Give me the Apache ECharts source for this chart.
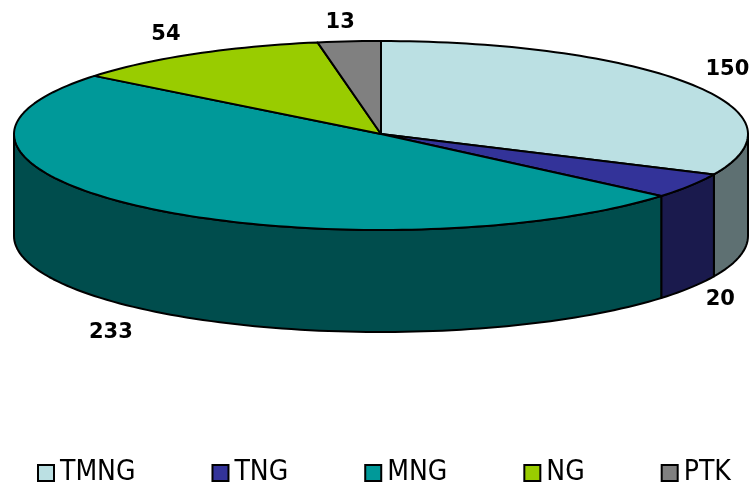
<!DOCTYPE html>
<html>
<head>
<meta charset="utf-8">
<style>html,body{margin:0;padding:0;background:#fff}#chart{width:752px;height:487px}</style>
<script src="https://cdn.jsdelivr.net/npm/echarts@6/dist/echarts.min.js"></script>
</head>
<body>
<div id="chart"></div>
<script>
// Category shares drawn as a tilted disc, clockwise from twelve o'clock.
const categories = ['TMNG', 'TNG', 'MNG', 'NG', 'PTK'];
const values = [150, 20, 233, 54, 13];
const topColors = ['#BBE0E3', '#333399', '#009999', '#99CC00', '#808080'];
const wallColors = ['#5E7072', '#1A1A4D', '#004D4D', '#4D6600', '#404040'];
// Label placement relative to each slice's mid-angle rim point.
const labelNudge = [[37, -14], [30, 12], [-37, 22], [-28, -19], [-9, -19]];

// The near half of the disc is drawn slightly deeper than the far half.
const disc = { cx: 381, cy: 134, rx: 367, ryFar: 93, ryNear: 96, depth: 102 };
const total = values.reduce((a, b) => a + b, 0);

function rim(deg, drop) {
  const t = deg * Math.PI / 180;
  const c = Math.cos(t);
  return [disc.cx + disc.rx * Math.sin(t), disc.cy - (c > 0 ? disc.ryFar : disc.ryNear) * c + drop];
}
function arc(from, to, drop) {
  const n = Math.max(2, Math.ceil(Math.abs(to - from) / 1.5));
  const pts = [];
  for (let i = 0; i <= n; i++) pts.push(rim(from + (to - from) * i / n, drop));
  return pts;
}
const stroke = { stroke: '#000', lineWidth: 2, lineJoin: 'round' };

function drawSlice(index) {
  return function (params, api) {
    const value = api.value(0);
    let before = 0;
    for (let i = 0; i < index; i++) before += values[i];
    const a0 = before / total * 360;
    const a1 = (before + value) / total * 360;
    const mid = (a0 + a1) / 2;
    const children = [];
    // The wall is visible only on the near half of the disc.
    const w0 = Math.max(a0, 90), w1 = Math.min(a1, 270);
    if (w1 > w0) {
      const pts = arc(w0, w1, 0).concat(arc(w0, w1, disc.depth).reverse());
      children.push({
        type: 'polygon',
        shape: { points: pts },
        style: Object.assign({ fill: wallColors[index] }, stroke)
      });
    }
    children.push({
      type: 'polygon',
      shape: { points: [[disc.cx, disc.cy]].concat(arc(a0, a1, 0)) },
      style: Object.assign({ fill: topColors[index] }, stroke)
    });
    const front = mid > 90 && mid < 270;
    const anchor = rim(mid, front ? disc.depth : 0);
    children.push({
      type: 'text',
      z2: 10,
      style: {
        text: String(value),
        x: anchor[0] + labelNudge[index][0],
        y: anchor[1] + labelNudge[index][1],
        align: 'center',
        verticalAlign: 'middle',
        fill: '#000',
        font: 'bold 21px "DejaVu Sans"'
      }
    });
    return { type: 'group', children: children };
  };
}

const chart = echarts.init(document.getElementById('chart'), null, { renderer: 'canvas' });
chart.setOption({
  animation: false,
  backgroundColor: '#fff',
  legend: {
    left: 37,
    top: 459,
    padding: 0,
    itemGap: 76,
    itemWidth: 16,
    itemHeight: 16,
    icon: 'rect',
    selectedMode: false,
    data: categories,
    itemStyle: { borderColor: '#000', borderWidth: 2 },
    textStyle: { fontFamily: 'DejaVu Sans Condensed', fontSize: 28, color: '#000', padding: [0, 0, 0, 1] }
  },
  series: categories.map((name, i) => ({
    type: 'custom',
    name: name,
    coordinateSystem: 'none',
    silent: true,
    itemStyle: { color: topColors[i] },
    data: [[values[i]]],
    encode: { value: 0 },
    renderItem: drawSlice(i)
  }))
});
</script>
</body>
</html>
